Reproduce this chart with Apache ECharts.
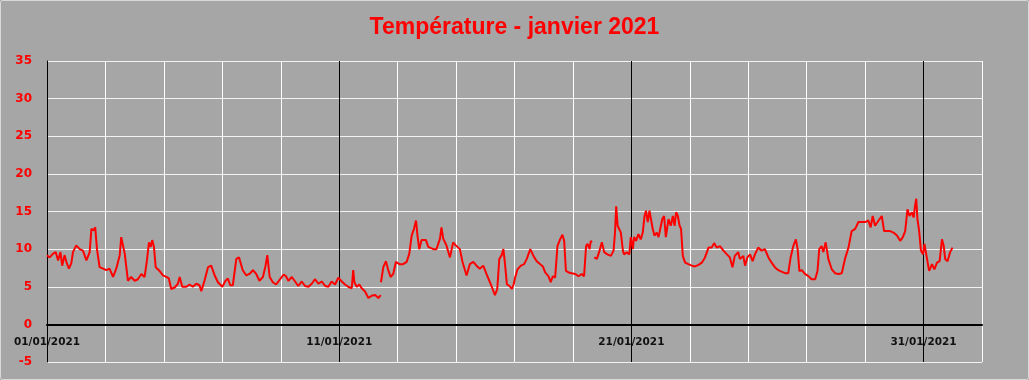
<!DOCTYPE html>
<html>
<head>
<meta charset="utf-8">
<script src="https://cdn.jsdelivr.net/npm/echarts@6/dist/echarts.min.js"></script>
<style>
html,body{margin:0;padding:0;background:#a6a6a6;}
#chart{width:1029px;height:380px;}
</style>
</head>
<body>
<div id="chart"></div>
<script>
// Time in days since 01/01/2021 00:00
const days = [
0.00,0.09,0.21,0.30,0.38,0.46,0.52,0.60,0.68,0.75,0.83,0.89,1.00,1.12,1.23,1.35,1.46,1.52,1.60,1.65,1.71,1.80,1.92,2.03,2.14,2.26,2.37,2.49,2.54,2.60,2.66,2.77,2.88,3.00,3.11,3.23,3.34,3.42,3.49,3.55,3.60,3.66,3.72,3.83,3.97,4.08,4.17,4.25,4.37,4.48,4.54,4.63,4.77,4.88,4.99,5.11,5.22,5.28,5.39,5.51,5.62,5.74,5.85,6.00,6.11,6.19,6.27,6.36,6.48,6.57,6.70,6.82,6.93,7.05,7.16,7.27,7.39,7.48,7.54,7.62,7.73,7.84,
8.00,8.09,8.18,8.26,8.38,8.49,8.60,8.72,8.83,8.95,9.06,9.17,9.29,9.40,9.52,9.63,9.74,9.86,9.97,10.09,10.20,10.31,10.43,10.48,10.52,10.60,10.69,10.77,10.88,11.00,11.11,11.23,11.34,11.42,11.425,11.43,11.51,11.60,11.68,11.76,11.85,11.94,12.06,12.19,12.31,12.40,12.48,12.56,12.63,12.68,12.74,12.82,12.97,13.05,13.22,13.33,13.45,13.50,13.56,13.67,13.79,13.90,13.99,14.13,14.22,14.36,14.47,14.59,14.70,14.81,14.93,15.04,15.16,15.25,15.33,15.41,
15.48,15.56,15.62,15.68,15.74,15.83,15.91,15.97,16.02,16.10,16.22,16.33,16.42,16.54,16.65,16.76,16.88,16.97,17.05,17.16,17.24,17.31,17.39,17.47,17.56,17.64,17.70,17.76,17.85,17.96,18.08,18.19,18.30,18.38,18.45,18.50,18.57,18.61,18.65,18.69,18.73,18.82,18.91,18.99,19.07,19.18,19.30,19.39,19.44,19.48,19.53,19.59,19.64,19.71,19.75,19.84,19.93,19.98,20.05,20.09,20.16,20.24,20.32,20.39,20.45,20.50,20.56,20.62,20.68,20.73,20.79,20.87,20.93,21.01,21.06,21.12,21.18,21.27,21.35,21.42,21.48,21.53,21.59,21.65,21.70,21.76,21.84,21.95,22.07,22.18,22.30,22.41,22.52,22.64,22.75,22.83,22.92,23.03,23.15,23.27,
23.37,23.46,23.54,23.66,23.71,23.83,23.89,23.97,24.06,24.15,24.23,24.34,24.46,24.57,24.69,24.80,24.91,25.03,25.14,25.26,25.37,25.45,25.54,25.63,25.69,25.75,25.83,25.94,26.06,26.17,26.29,26.37,26.43,26.51,26.57,26.65,26.74,26.86,26.97,27.09,27.20,27.31,27.43,27.54,27.66,27.77,27.89,28.00,28.11,28.19,28.26,28.34,28.46,28.57,28.65,28.74,28.86,28.97,29.09,29.20,29.29,29.37,29.45,29.52,29.60,29.66,29.71,29.75,29.79,29.85,29.91,29.98,30.03,30.11,30.19,30.29,30.37,30.46,30.55,30.63,30.69,30.74,30.82,30.91,30.99
];
const temps = [
9.2,8.9,9.4,9.6,8.5,9.6,7.8,9.2,8.1,7.4,8.1,9.6,10.5,10.0,9.8,8.5,9.6,12.7,12.5,12.9,10.0,7.6,7.4,7.2,7.4,6.3,7.4,9.2,11.6,11.4,9.4,5.8,6.3,5.8,6.0,6.7,6.3,8.5,10.9,10.3,11.2,10.3,7.6,7.2,6.5,6.3,6.1,4.7,4.9,5.4,6.3,5.0,5.0,5.3,5.0,5.4,5.2,4.4,5.8,7.6,7.8,6.5,5.6,5.0,5.8,6.1,5.2,5.2,8.7,8.9,7.2,6.5,6.7,7.2,6.7,5.8,6.3,7.8,9.2,6.3,5.6,5.3,
6.1,6.6,6.4,5.8,6.3,5.7,5.1,5.7,5.1,5.0,5.4,6.0,5.4,5.7,5.1,5.0,5.7,5.3,6.2,5.7,5.3,5.0,4.8,7.2,5.6,5.0,5.3,4.8,4.4,3.5,3.8,3.9,3.5,3.9,null,5.6,7.6,8.4,7.2,6.3,6.7,8.3,8.0,8.0,8.3,9.4,11.8,12.7,13.8,11.8,10.0,11.2,11.2,10.3,10.0,10.0,11.4,12.9,11.4,10.5,8.9,10.9,10.5,10.0,8.3,6.5,8.0,8.3,7.8,7.4,7.8,6.7,5.6,4.7,3.9,4.7,
8.7,9.2,10.0,7.8,5.3,5.1,4.7,5.3,6.2,7.3,7.8,8.0,8.7,10.0,9.1,8.4,8.0,7.7,6.9,6.4,5.6,6.4,6.2,10.4,11.3,11.9,11.1,7.1,6.9,6.8,6.7,6.4,6.7,6.4,10.4,10.7,10.0,11.1,10.9,null,8.9,8.7,9.8,10.9,9.6,9.3,9.1,9.8,12.2,15.7,13.1,13.3,12.2,9.8,9.3,9.6,9.3,11.6,10.0,11.6,11.1,12.0,11.3,12.2,14.4,15.1,13.6,15.1,15.3,12.7,11.8,12.2,11.6,13.1,14.0,14.4,11.6,14.0,13.1,14.4,13.1,14.9,14.4,13.1,12.7,9.1,8.2,8.0,7.8,7.7,7.9,8.2,8.9,10.2,10.2,10.8,10.2,10.4,9.8,9.3,
8.9,7.6,9.1,9.6,8.7,9.1,7.8,8.9,9.3,8.4,9.3,10.2,9.8,10.0,8.9,8.2,7.6,7.2,7.0,6.8,6.8,8.9,10.4,11.3,10.0,7.1,7.2,6.7,6.4,6.0,6.0,7.1,10.0,10.4,9.6,10.9,8.7,7.3,6.8,6.7,6.8,8.7,10.2,12.4,12.7,13.6,13.6,13.6,13.8,12.9,14.4,13.1,13.8,14.4,12.4,12.4,12.4,12.2,11.8,11.1,11.6,12.4,15.3,14.4,14.9,14.2,15.8,16.7,14.0,12.4,9.8,9.3,10.7,8.9,7.1,8.0,7.3,8.2,8.4,11.3,10.4,8.7,8.4,9.6,10.2
];
const labeledDays = [0, 10, 20, 30];
const titleText = 'Température - janvier 2021';

function pad(n){ return (n < 10 ? '0' : '') + n; }

const seriesData = days.map((d, i) => [d, temps[i]]);

const gridTop = 61, gridHeight = 301, yMin = -5, yMax = 35;
// shift the x axis up from the grid bottom to the y=0 level
const zeroOffset = -gridHeight * (0 - yMin) / (yMax - yMin);

const chart = echarts.init(document.getElementById('chart'), null, {renderer: 'canvas'});
chart.setOption({
  animation: false,
  backgroundColor: '#a6a6a6',
  title: {
    text: titleText,
    left: 'center',
    top: 11,
    textStyle: {color: '#ff0000', fontFamily: 'Liberation Sans', fontWeight: 'bold', fontSize: 23}
  },
  graphic: [{
    type: 'rect', silent: true, z: 100,
    shape: {x: 0.5, y: 0.5, width: 1028, height: 379, r: 2},
    style: {fill: 'none', stroke: '#d9d9d9', lineWidth: 1}
  }],
  grid: {left: 47, top: gridTop, width: 935, height: gridHeight, containLabel: false, outerBoundsMode: 'none'},
  xAxis: {
    type: 'value',
    min: 0, max: 32, interval: 2,
    offset: zeroOffset,
    axisLine: {show: true, onZero: false, lineStyle: {color: '#000', width: 2}},
    axisTick: {show: false},
    axisLabel: {
      show: true, margin: 12,
      color: '#111', fontFamily: 'DejaVu Sans', fontWeight: 'bold', fontSize: 10.5,
      formatter: function (v) {
        return labeledDays.indexOf(v) >= 0 ? pad(1 + v) + '/01/2021' : '';
      }
    },
    splitLine: {show: true, lineStyle: {color: ['#000', '#fff', '#fff', '#fff', '#fff'], width: 1}}
  },
  yAxis: {
    type: 'value',
    min: yMin, max: yMax, interval: 5,
    axisLine: {show: true, onZero: false, lineStyle: {color: '#000', width: 1}},
    axisTick: {show: false},
    axisLabel: {margin: 15, color: '#ff0000', fontFamily: 'DejaVu Sans', fontWeight: 'bold', fontSize: 12},
    splitLine: {show: true, lineStyle: {color: '#f2f2f2', width: 1}}
  },
  series: [{
    type: 'line',
    data: seriesData,
    showSymbol: false,
    connectNulls: false,
    lineStyle: {color: '#ff0000', width: 2},
    z: 5
  }]
});
</script>
</body>
</html>
